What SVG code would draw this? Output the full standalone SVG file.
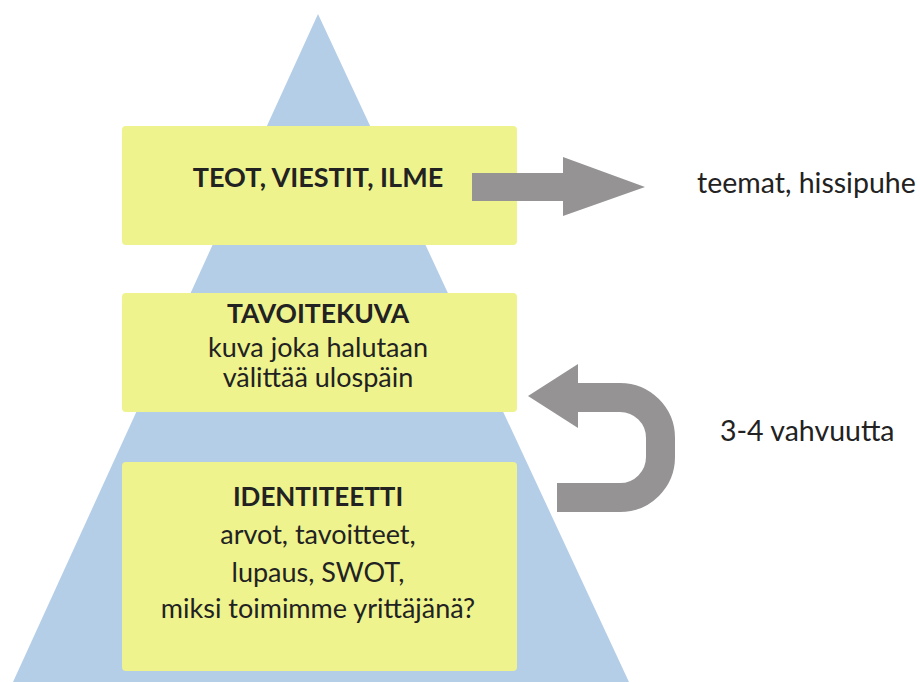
<svg xmlns="http://www.w3.org/2000/svg" width="920" height="682" viewBox="0 0 920 682">
  <style>
    .box { fill: #eef38e; }
    .t { font-family: Lato, "Open Sans", "Liberation Sans", sans-serif; fill: #222222; text-anchor: middle; }
    .h { font-weight: bold; font-size: 26px; }
    .r { font-size: 27px; }
    .lbl { font-family: Lato, "Open Sans", "Liberation Sans", sans-serif; fill: #222222; font-size: 28.5px; }
    .arrow { fill: #959393; }
  </style>
  <rect x="0" y="0" width="920" height="682" fill="#ffffff"/>
  <!-- pyramid backdrop -->
  <polygon id="pyramid" points="318,14 13,682 629,682" fill="#b5cee8"/>

  <g id="teot">
    <rect class="box" x="122" y="126" width="395" height="119" rx="4"/>
    <text class="t h" x="318" y="187" style="font-size:27px">TEOT, VIESTIT, ILME</text>
  </g>

  <g id="tavoitekuva">
    <rect class="box" x="122" y="293" width="395" height="119" rx="4"/>
    <text class="t h" x="318" y="323" style="font-size:26.5px">TAVOITEKUVA</text>
    <text class="t r" x="318" y="357">kuva joka halutaan</text>
    <text class="t r" x="318" y="387">välittää ulospäin</text>
  </g>

  <g id="identiteetti">
    <rect class="box" x="122" y="462" width="395" height="209" rx="4"/>
    <text class="t h" x="318" y="506">IDENTITEETTI</text>
    <text class="t r" x="318" y="544">arvot, tavoitteet,</text>
    <text class="t r" x="318" y="582">lupaus, SWOT,</text>
    <text class="t r" x="318" y="618">miksi toimimme yrittäjänä?</text>
  </g>

  <g id="connectors">
    <!-- outward arrow -->
    <polygon class="arrow" points="472,173 563,173 563,157 645,187 563,216 563,201 472,201"/>
    <!-- U-turn arrow back into the middle box -->
    <path d="M578,397.5 L620,397.5 A40.5,40.5 0 0 1 660.5,438 L660.5,457 A40.5,40.5 0 0 1 620,497.5 L557,497.5" fill="none" stroke="#959393" stroke-width="29"/>
    <polygon class="arrow" points="528,396 578,364 578,428"/>
  </g>

  <g id="labels">
    <text class="lbl" x="697" y="193">teemat, hissipuhe</text>
    <text class="lbl" x="720" y="441">3-4 vahvuutta</text>
  </g>
</svg>
